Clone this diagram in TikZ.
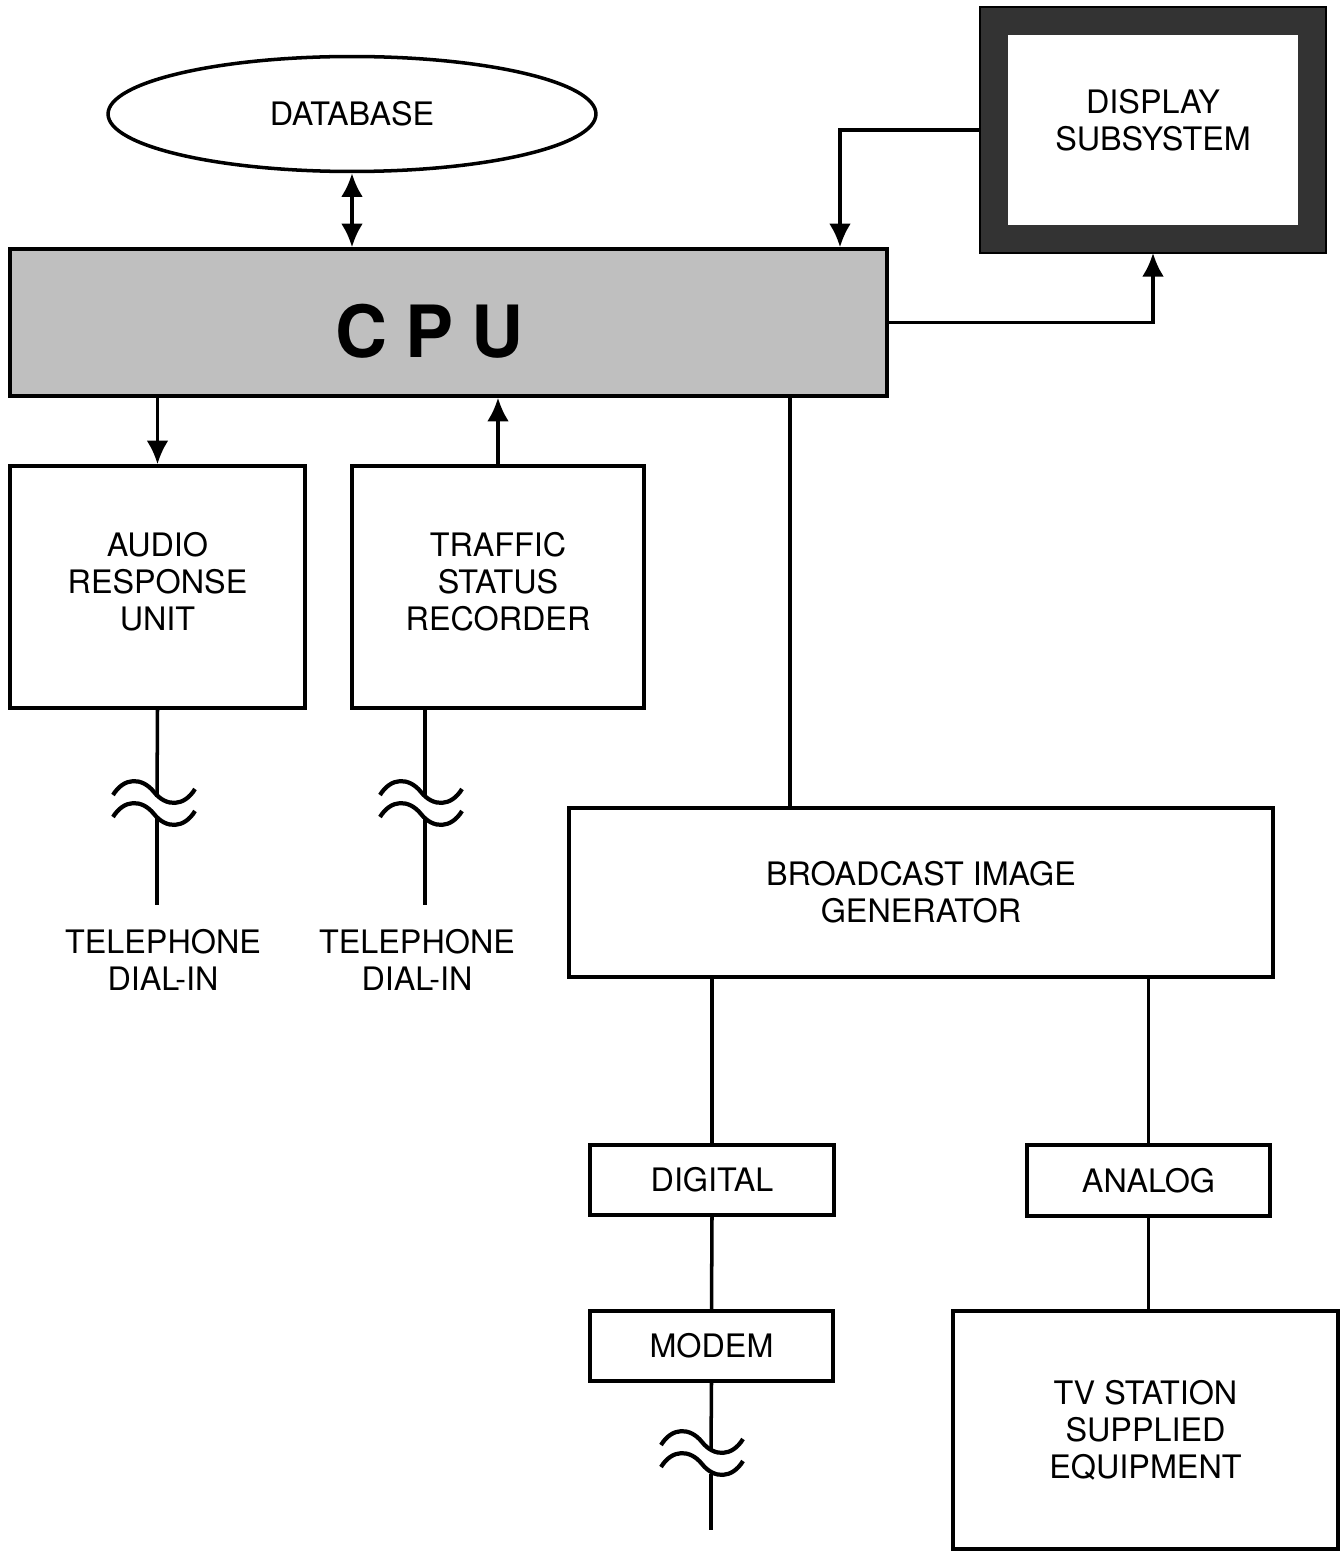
\documentclass[tikz,border=0pt]{standalone}
\usepackage{fontspec}
\setmainfont{TeX Gyre Heros}
\usetikzlibrary{shapes.geometric,arrows.meta}

\tikzset{
  blk/.style={draw, line width=2pt, align=center, inner sep=0pt},
  wavebreak/.pic={
    \draw[line width=2.4pt] (-41,3) .. controls (-30,-15) and (-12,-15) .. (0,0)
      .. controls (12,15) and (30,15) .. (41,-3);
    \draw[line width=2.4pt] (-41,25) .. controls (-30,7) and (-12,7) .. (0,22)
      .. controls (12,37) and (30,37) .. (41,19);
  }
}

\begin{document}
\begin{tikzpicture}[x=0.02cm,y=-0.02cm,line width=2pt,
  >={Latex[length=13.5pt,width=12.5pt]},
  font=\fontsize{18.4}{21}\selectfont]
\useasboundingbox (0,0) rectangle (1340,1551);

% blocks
\node[blk,ellipse,minimum width=9.76cm,minimum height=2.3cm] (db) at (352,114) {DATABASE};
\node[blk,fill=black!25,minimum width=17.54cm,minimum height=2.94cm] (cpu) at (448.5,322.5) {};
\node[font=\fontsize{41}{41}\selectfont\bfseries] (cput) at ([xshift=-0.38cm,yshift=-0.18cm]cpu.center)
  {C\hspace{0.25em}P\hspace{0.25em}U};
\node[blk,draw=black!80,line width=15.9pt,fill=white,minimum width=6.36cm,minimum height=4.36cm] (disp) at (1153,130) {};
\draw[line width=1.2pt] (disp.north west) rectangle (disp.south east);
\node[align=center] (dispt) at ([yshift=0.2cm]disp.center) {DISPLAY\\SUBSYSTEM};
\node[blk,minimum width=5.9cm,minimum height=4.84cm] (aru) at (157.5,587) {};
\node[align=center] (arut) at ([yshift=0.1cm]aru.center) {AUDIO\\RESPONSE\\UNIT};
\node[blk,minimum width=5.84cm,minimum height=4.84cm] (tsr) at (498,587) {};
\node[align=center] (tsrt) at ([yshift=0.1cm]tsr.center) {TRAFFIC\\STATUS\\RECORDER};
\node[blk,minimum width=14.08cm,minimum height=3.38cm] (big) at (921,892.5) {BROADCAST IMAGE\\GENERATOR};
\node[blk,minimum width=4.88cm,minimum height=1.4cm] (dig) at (712,1180) {DIGITAL};
\node[blk,minimum width=4.86cm,minimum height=1.42cm] (ana) at (1148.5,1180.5) {ANALOG};
\node[blk,minimum width=4.86cm,minimum height=1.4cm] (modem) at (711.5,1346) {MODEM};
\node[blk,minimum width=7.7cm,minimum height=4.76cm] (tv) at (1145.5,1430) {TV STATION\\SUPPLIED\\EQUIPMENT};

\node[align=center,inner xsep=0pt,inner ysep=13pt] (tel1) at (163,960) {TELEPHONE\\DIAL-IN};
\node[align=center,inner xsep=0pt,inner ysep=13pt] (tel2) at (417,960) {TELEPHONE\\DIAL-IN};

% taps and line breaks
\coordinate (dtap) at (840,0);
\coordinate (btap) at (790,0);
\coordinate (w1t) at (157,797);
\coordinate (w1b) at (157,818);
\coordinate (w2t) at (425,797);
\coordinate (w2b) at (425,818);
\coordinate (w3t) at (711,1449);
\coordinate (w3b) at (711,1474);
\coordinate (mend) at (711,1530);

\pic at (154,792) {wavebreak};
\pic at (421,792) {wavebreak};
\pic at (702,1442) {wavebreak};

% connectors
\draw[<->] (db.south) -- (db.south |- cpu.north);
\draw[->] (disp.west) -| (dtap |- cpu.north);
\draw[->] (cpu.east) -| (disp.south);
\draw[->] (aru.north |- cpu.south) -- (aru.north);
\draw[->] (tsr.north) -- (tsr.north |- cpu.south);
\draw (btap |- cpu.south) -- (btap |- big.north);

\draw (aru.south) -- (w1t);
\draw (w1b) -- (w1b |- tel1.north);
\draw (w2t |- tsr.south) -- (w2t);
\draw (w2b) -- (w2b |- tel2.north);

\draw (dig.north |- big.south) -- (dig.north);
\draw (ana.north |- big.south) -- (ana.north);
\draw (dig.south) -- (modem.north);
\draw (ana.south) -- (ana.south |- tv.north);
\draw (modem.south) -- (w3t);
\draw (w3b) -- (mend);

\end{tikzpicture}
\end{document}
